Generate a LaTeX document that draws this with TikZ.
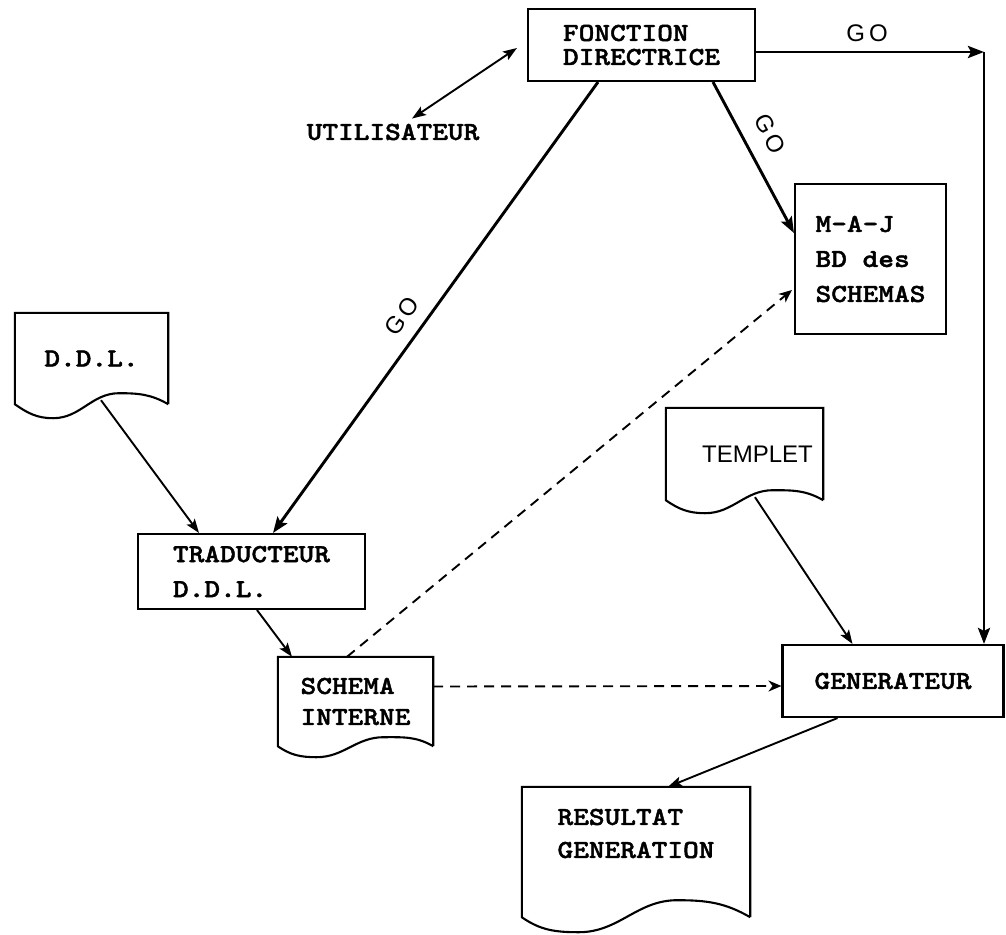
\documentclass[tikz,border=0pt]{standalone}
\usepackage{fontspec}
\setsansfont{Liberation Sans}
\newfontfamily\typew{lmmonolt10-bold.otf}[FakeStretch=1.15,FakeBold=1.6]
\usetikzlibrary{arrows.meta,calc}

% typewriter labels with a given leading, sans labels for GO / TEMPLET
\newcommand\monolbl[1]{\typew\fontsize{26pt}{#1}\selectfont}
\newcommand\sanslbl{\sffamily\fontsize{24pt}{28pt}\selectfont}
\newcommand\golbl{G\kern4pt O}

% document symbol: straight top and sides, wavy bottom
% #1 node, #2 extra depth of the sides below the node, #3 trough depth, #4 crest height
\newcommand\docframe[4]{%
  \path ([yshift=-#2pt]#1.south west) coordinate (#1-lc)
        ([yshift=-#2pt]#1.south east) coordinate (#1-rc);
  \draw[frame] (#1-rc) -- (#1.north east) -- (#1.north west) -- (#1-lc)
    to[out=-35,in=180] ($(#1-lc)!0.25!(#1-rc)+(0,-#3)$)
    to[out=0,in=180] ($(#1-lc)!0.68!(#1-rc)+(0,#4)$)
    to[out=0,in=150] (#1-rc);
}

\tikzset{
  frame/.style={line width=2.1pt, line join=miter},
  procbox/.style={draw, line width=2.1pt, rectangle, inner sep=0pt, align=left},
  docnode/.style={rectangle, inner sep=0pt, align=left},
  goarrow/.style={line width=2.9pt, -{Stealth[length=16pt,width=12pt,inset=3pt]}},
  flow/.style={line width=1.9pt, -{Stealth[length=14pt,width=10pt,inset=3pt]}},
  dataflow/.style={line width=1.9pt, dash pattern=on 10pt off 7pt, -{Stealth[length=13pt,width=11pt,inset=4pt]}},
  golabel/.style={font=\sanslbl, inner sep=0pt},
}

\begin{document}
\begin{tikzpicture}[x=1pt,y=1pt]
\useasboundingbox (0,0) rectangle (1006,-934);

% processes
\node[procbox, minimum width=227pt, minimum height=72pt, font=\monolbl{24pt}] (fd) at (641.5,-45) {FONCTION\\DIRECTRICE};
\node[procbox, minimum width=151pt, minimum height=150pt, font=\monolbl{35pt}] (maj) at (870.5,-259) {M-A-J\\BD des\\SCHEMAS};
\node[procbox, minimum width=227pt, minimum height=75pt, font=\monolbl{35pt}] (trad) at (251.5,-571.5) {TRADUCTEUR\\D.D.L.};
\node[procbox, minimum width=221pt, minimum height=72pt, font=\monolbl{30pt}] (gen) at (893,-681) {GENERATEUR};
\node[inner sep=0pt, font=\monolbl{30pt}] (util) at (393,-132) {UTILISATEUR};

% documents
\node[docnode, minimum width=153pt, minimum height=91pt, font=\monolbl{30pt}] (ddl) at (91.5,-358.5) {D.D.L.};
\node[docnode, minimum width=155pt, minimum height=89pt, font=\monolbl{31pt}] (schema) at (355.5,-701.5) {SCHEMA\\INTERNE};
\node[docnode, minimum width=157pt, minimum height=92pt, font=\sanslbl] (templet) at (744.5,-454) {\kern26pt\raisebox{-3pt}{TEMPLET}};
\node[docnode, minimum width=228pt, minimum height=93pt, font=\monolbl{33pt}] (res) at (636,-833.5) {RESULTAT\\GENERATION};
\docframe{ddl}{0}{14}{11}
\docframe{schema}{0}{11}{9}
\docframe{templet}{0}{13}{10}
\docframe{res}{37}{15}{17}

% control flow
\coordinate (gocorner) at (984,-52);
\draw[line width=1.9pt, {Stealth[length=14pt,width=10pt,inset=3pt]}-{Stealth[length=14pt,width=10pt,inset=3pt]}]
  ([shift={(19pt,5pt)}]util.north) -- ([shift={(-10pt,-3pt)}]fd.west);
\draw[goarrow] ([yshift=-7pt]fd.east) -- (gocorner);
\draw[goarrow] (gocorner) -- (gocorner |- gen.north);
\draw[goarrow] ([xshift=71.5pt]fd.south) -- ([yshift=26pt]maj.west);
\draw[goarrow] ([xshift=-43.5pt]fd.south) -- ([xshift=21.5pt]trad.north);

\node[golabel] (go1) at (867,-33) {\golbl};
\node[golabel, rotate=-62] (go2) at (770,-134) {\golbl};
\node[golabel, rotate=54] (go3) at (402,-316) {\golbl};

% data flow
\draw[flow] ([shift={(9.5pt,4pt)}]ddl.south) -- ([xshift=-52.5pt]trad.north);
\draw[flow] ([xshift=5.5pt]trad.south) -- ([xshift=-63.5pt]schema.north);
\draw[flow] ([shift={(10.5pt,3pt)}]templet.south) -- ([xshift=-40.5pt]gen.north);
\draw[flow] ([xshift=-55.5pt]gen.south) -- ([xshift=32pt]res.north);
\draw[dataflow] ([xshift=-8.5pt]schema.north) -- ([shift={(-2pt,-31pt)}]maj.west);
\draw[dataflow] ([yshift=15pt]schema.east) -- ([yshift=-5pt]gen.west);
\end{tikzpicture}
\end{document}
